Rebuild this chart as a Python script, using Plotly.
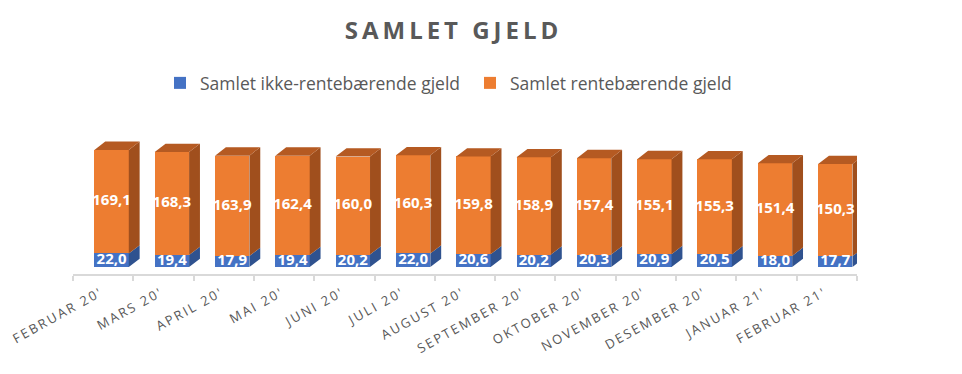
import plotly.graph_objects as go

categories = ["FEBRUAR 20'", "MARS 20'", "APRIL 20'", "MAI 20'", "JUNI 20'", "JULI 20'",
              "AUGUST 20'", "SEPTEMBER 20'", "OKTOBER 20'", "NOVEMBER 20'", "DESEMBER 20'",
              "JANUAR 21'", "FEBRUAR 21'"]
ikke_rente = [22.0, 19.4, 17.9, 19.4, 20.2, 22.0, 20.6, 20.2, 20.3, 20.9, 20.5, 18.0, 17.7]
rente = [169.1, 168.3, 163.9, 162.4, 160.0, 160.3, 159.8, 158.9, 157.4, 155.1, 155.3, 151.4, 150.3]
title_text = "SAMLET GJELD"

BLUE = "#4472C4"
BLUE_SIDE = "#2F528F"
ORANGE = "#ED7D31"
ORANGE_SIDE = "#A04F1D"
ORANGE_TOP = "#B55A22"
GRAY = "#595959"

W, H = 946, 358   # page body has an 8px margin
n = len(categories)
idx = list(range(n))
shift = 0.14      # front face offset inside category (3D look)
bw = 0.57         # front face width
dx = 0.18         # depth in x (category units)
dy = 13.6         # depth in y (data units)
xpos = [i + shift for i in idx]
totals = [a + b for a, b in zip(ikke_rente, rente)]


def fmt(v):
    return f"{v:.1f}".replace(".", ",")


def spaced(s, sep="\u2009"):
    # letter spacing like the original
    return sep.join(s)


fig = go.Figure()
fig.add_trace(go.Bar(x=xpos, y=ikke_rente, width=bw, name="Samlet ikke-rentebærende gjeld",
                     marker=dict(color=BLUE, line=dict(width=0)), hoverinfo="skip"))
fig.add_trace(go.Bar(x=xpos, y=rente, width=bw, name="Samlet rentebærende gjeld",
                     marker=dict(color=ORANGE, line=dict(width=0)), hoverinfo="skip"))


def side_polys(y0s, y1s):
    xs, ys = [], []
    for x, y0, y1 in zip(xpos, y0s, y1s):
        xr = x + bw / 2
        xs += [xr, xr + dx, xr + dx, xr, xr, None]
        ys += [y0, y0 + dy, y1 + dy, y1, y0, None]
    return xs, ys


bx, by = side_polys([0] * n, ikke_rente)
fig.add_trace(go.Scatter(x=bx, y=by, fill="toself", fillcolor=BLUE_SIDE, mode="lines",
                         line=dict(width=0, color=BLUE_SIDE), showlegend=False, hoverinfo="skip"))
ox, oy = side_polys(ikke_rente, totals)
fig.add_trace(go.Scatter(x=ox, y=oy, fill="toself", fillcolor=ORANGE_SIDE, mode="lines",
                         line=dict(width=0, color=ORANGE_SIDE), showlegend=False, hoverinfo="skip"))
tx, ty = [], []
for x, t in zip(xpos, totals):
    xl, xr = x - bw / 2, x + bw / 2
    tx += [xl, xl + dx, xr + dx, xr, xl, None]
    ty += [t, t + dy, t + dy, t, t, None]
fig.add_trace(go.Scatter(x=tx, y=ty, fill="toself", fillcolor=ORANGE_TOP, mode="lines",
                         line=dict(width=0, color=ORANGE_TOP), showlegend=False, hoverinfo="skip"))

# data labels
lblfont = dict(family="Open Sans", size=15, color="white", weight="bold")
fig.add_trace(go.Scatter(x=xpos, y=[v / 2 for v in ikke_rente], mode="text",
                         text=[fmt(v) for v in ikke_rente], textfont=lblfont,
                         showlegend=False, hoverinfo="skip"))
fig.add_trace(go.Scatter(x=xpos, y=[a + b / 2 for a, b in zip(ikke_rente, rente)], mode="text",
                         text=[fmt(v) for v in rente], textfont=lblfont,
                         showlegend=False, hoverinfo="skip"))

fig.update_layout(
    width=W, height=H,
    margin=dict(l=65, r=97, t=112, b=92, autoexpand=False),
    paper_bgcolor="white", plot_bgcolor="white",
    barmode="stack", bargap=0,
    title=dict(text="<b>" + spaced(title_text) + "</b>", xref="container", x=443.5 / W,
               xanchor="center", yref="container", y=1 - 23 / H, yanchor="middle",
               font=dict(family="Open Sans", size=24, color=GRAY)),
    legend=dict(orientation="h", xref="container", x=152 / W, xanchor="left",
                yref="container", y=1 - 75 / H, yanchor="middle",
                font=dict(family="Open Sans", size=17.5, color=GRAY), itemwidth=30,
                entrywidth=265, entrywidthmode="pixels", traceorder="normal"),
    showlegend=True,
    xaxis=dict(range=[-0.5, n - 0.5], tickmode="array", tickvals=idx,
               ticktext=[spaced(c, "\u2009") for c in categories], automargin=False,
               ticklabeloverflow="allow", ticklabelshift=-4, ticklabelstandoff=5,
               tickangle=-29, ticks="outside", ticklen=0, tickcolor="rgba(0,0,0,0)",
               tickfont=dict(family="Open Sans", size=13, color=GRAY),
               showline=True, linecolor="#D9D9D9", linewidth=2, showgrid=False, zeroline=False,
               minor=dict(tickmode="array", tickvals=[i - 0.5 for i in range(n + 1)],
                          ticks="outside", ticklen=5, tickcolor="#D9D9D9", tickwidth=2),
               fixedrange=True),
    yaxis=dict(range=[-11.5, 240], showticklabels=False, showgrid=False, zeroline=False,
               showline=False, fixedrange=True, automargin=False),
)

fig.write_html("out.html")
